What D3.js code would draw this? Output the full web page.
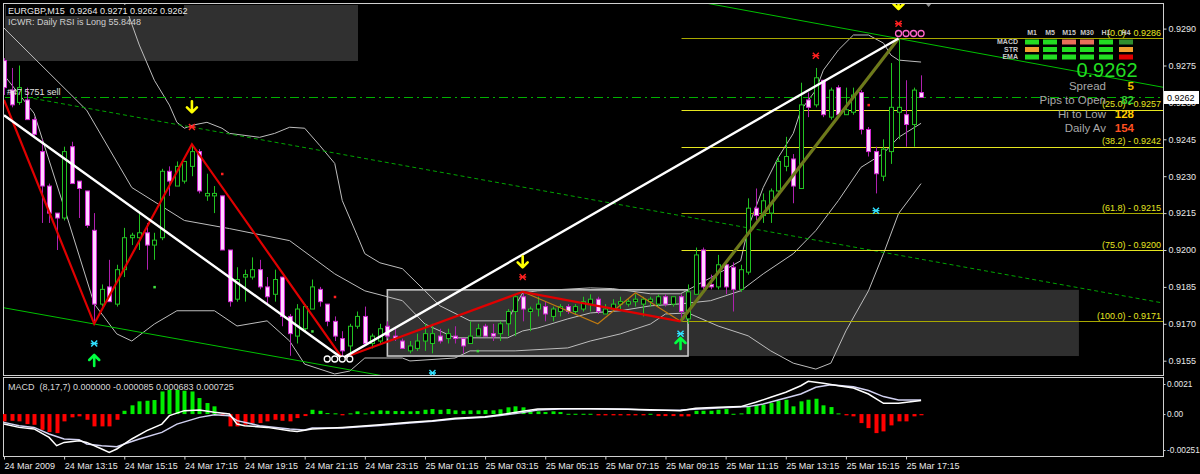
<!DOCTYPE html>
<html><head><meta charset="utf-8">
<script src="https://cdn.jsdelivr.net/npm/d3@7"></script>
<style>
html,body{margin:0;padding:0;background:#000;}
svg{display:block;font-family:"Liberation Sans",Arial,sans-serif;}
</style></head><body>
<svg id="chart" width="1200" height="474"></svg>
<script>
// ---------------- DATA ----------------
const symbolTitle = "EURGBP,M15";
const infoLine = "ICWR: Daily RSI is Long 55.8448";
const orderText = "#47 5751 sell";
const opens = [0.9277,0.9265,0.9260,0.9261,0.9253,0.9240,0.9226,0.9215,0.9213,0.9242,
 0.9228,0.9224,0.9208,0.9178,0.9185,0.9178,0.9192,0.9205,0.9205,0.9207,
 0.9202,0.9205,0.9232,0.9226,0.9228,0.9234,0.9240,0.9222,0.9222,0.9222,
 0.9200,0.9180,0.9189,0.9189,0.9192,0.9185,0.9182,0.9189,0.9173,0.9165,
 0.9168,0.9176,0.9184,0.9178,0.9171,0.9164,0.9161,0.9169,0.9173,0.9162,
 0.9163,0.9169,0.9165,0.9163,0.9159,0.9160,0.9163,0.9162,0.9165,0.9164,
 0.9165,0.9164,0.9162,0.9165,0.9169,0.9166,0.9166,0.9170,0.9175,0.9181,
 0.9175,0.9176,0.9177,0.9173,0.9175,0.9177,0.9175,0.9176,0.9178,0.9180,
 0.9174,0.9176,0.9178,0.9178,0.9179,0.9178,0.9179,0.9178,0.9181,0.9178,
 0.9181,0.9172,0.9182,0.9200,0.9186,0.9185,0.9194,0.9193,0.9184,0.9191,
 0.9217,0.9214,0.9215,0.9224,0.9234,0.9237,0.9225,0.9261,0.9259,0.9269,
 0.9254,0.9266,0.9255,0.9256,0.9264,0.9249,0.9240,0.9230,0.9240,0.9256,
 0.9255,0.9251,0.9264];
const highs = [0.9278,0.9274,0.9275,0.9266,0.9254,0.9245,0.9227,0.9215,0.9242,0.9244,
 0.9228,0.9224,0.9215,0.9186,0.9196,0.9194,0.9209,0.9207,0.9215,0.9211,
 0.9207,0.9233,0.9234,0.9236,0.9236,0.9243,0.9241,0.9231,0.9226,0.9222,
 0.9200,0.9193,0.9192,0.9197,0.9196,0.9189,0.9192,0.9189,0.9174,0.9178,
 0.9178,0.9188,0.9185,0.9178,0.9173,0.9167,0.9170,0.9175,0.9177,0.9166,
 0.9170,0.9171,0.9168,0.9164,0.9163,0.9166,0.9170,0.9170,0.9168,0.9168,
 0.9169,0.9164,0.9171,0.9170,0.9170,0.9170,0.9171,0.9176,0.9182,0.9183,
 0.9177,0.9181,0.9179,0.9177,0.9178,0.9178,0.9178,0.9181,0.9182,0.9181,
 0.9178,0.9180,0.9181,0.9180,0.9182,0.9181,0.9181,0.9182,0.9182,0.9181,
 0.9182,0.9186,0.9201,0.9201,0.9190,0.9198,0.9196,0.9195,0.9194,0.9221,
 0.9225,0.9223,0.9225,0.9238,0.9246,0.9239,0.9268,0.9264,0.9274,0.9269,
 0.9266,0.9267,0.9266,0.9266,0.9265,0.9250,0.9242,0.9245,0.9276,0.9286,
 0.9269,0.9266,0.9271];
const lows = [0.9263,0.9258,0.9259,0.9253,0.9246,0.9211,0.9211,0.9200,0.9212,0.9227,
 0.9213,0.9209,0.9170,0.9177,0.9179,0.9177,0.9189,0.9202,0.9200,0.9192,
 0.9196,0.9204,0.9222,0.9226,0.9227,0.9230,0.9223,0.9220,0.9215,0.9200,
 0.9177,0.9179,0.9179,0.9188,0.9184,0.9178,0.9179,0.9169,0.9157,0.9162,
 0.9167,0.9176,0.9177,0.9169,0.9163,0.9156,0.9158,0.9168,0.9161,0.9160,
 0.9162,0.9164,0.9163,0.9160,0.9158,0.9159,0.9159,0.9158,0.9162,0.9162,
 0.9162,0.9158,0.9162,0.9165,0.9165,0.9163,0.9163,0.9165,0.9165,0.9171,
 0.9167,0.9173,0.9171,0.9171,0.9173,0.9174,0.9174,0.9175,0.9175,0.9174,
 0.9174,0.9175,0.9176,0.9177,0.9177,0.9173,0.9177,0.9177,0.9177,0.9177,
 0.9171,0.9170,0.9182,0.9184,0.9184,0.9184,0.9182,0.9175,0.9183,0.9190,
 0.9212,0.9211,0.9211,0.9223,0.9232,0.9219,0.9225,0.9254,0.9258,0.9254,
 0.9253,0.9255,0.9255,0.9255,0.9247,0.9238,0.9223,0.9228,0.9235,0.9245,
 0.9242,0.9242,0.9262];
const closes = [0.9266,0.9259,0.9266,0.9253,0.9247,0.9226,0.9215,0.9213,0.9240,0.9227,
 0.9225,0.9210,0.9178,0.9184,0.9179,0.9192,0.9205,0.9206,0.9207,0.9202,
 0.9204,0.9232,0.9228,0.9234,0.9236,0.9240,0.9224,0.9223,0.9223,0.9200,
 0.9179,0.9188,0.9190,0.9192,0.9185,0.9181,0.9188,0.9173,0.9166,0.9176,
 0.9177,0.9185,0.9179,0.9171,0.9165,0.9159,0.9169,0.9173,0.9162,0.9165,
 0.9168,0.9165,0.9164,0.9160,0.9161,0.9163,0.9166,0.9166,0.9163,0.9166,
 0.9164,0.9161,0.9165,0.9168,0.9165,0.9165,0.9170,0.9175,0.9181,0.9176,
 0.9176,0.9178,0.9174,0.9176,0.9177,0.9175,0.9177,0.9179,0.9180,0.9175,
 0.9176,0.9178,0.9179,0.9179,0.9180,0.9180,0.9180,0.9181,0.9178,0.9181,
 0.9175,0.9183,0.9198,0.9185,0.9185,0.9194,0.9185,0.9184,0.9192,0.9217,
 0.9214,0.9220,0.9224,0.9236,0.9238,0.9226,0.9259,0.9258,0.9270,0.9255,
 0.9265,0.9255,0.9257,0.9263,0.9249,0.9240,0.9231,0.9241,0.9258,0.9258,
 0.9251,0.9265,0.9262];

const timeLabels = ["24 Mar 2009","24 Mar 13:15","24 Mar 15:15","24 Mar 17:15","24 Mar 19:15",
 "24 Mar 21:15","24 Mar 23:15","25 Mar 01:15","25 Mar 03:15","25 Mar 05:15","25 Mar 07:15",
 "25 Mar 09:15","25 Mar 11:15","25 Mar 13:15","25 Mar 15:15","25 Mar 17:15"];
const timeLabelBars = [0,8,16,24,32,40,48,56,64,72,80,88,96,104,112,120];
const priceTicks = [0.9290,0.9275,0.9260,0.9245,0.9230,0.9215,0.9200,0.9185,0.9170,0.9155];
const macdTicks = [0.0021,0.0,-0.00251];
const macdTickLabels = ["0.0021","0.00","-0.00251"];
const macdTitle = "MACD  (8,17,7) 0.000000 -0.000085 0.000683 0.000725";

// Bollinger bands: [bar, price]
const bbUpper = [[14,0.9310],[16,0.93004],[18,0.92833],[20,0.92690],[22,0.92589],[23,0.92519],[24,0.92495],[25,0.92507],[27,0.92519],[29,0.92495],[30,0.92474],[34,0.92458],[36,0.92474],[38,0.92499],[40,0.92495],[42,0.92425],[44,0.92352],[45,0.92201],[47,0.92058],[48,0.91985],[50,0.91948],[53,0.91924],[56,0.91834],[58,0.91773],[62,0.91712],[67,0.91712],[68,0.91773],[69,0.91826],[71,0.91834],[78,0.91846],[81,0.91843],[86,0.91822],[90,0.91822],[94,0.91887],[98,0.91956],[99,0.92091],[101,0.92254],[103,0.92376],[105,0.92474],[106,0.92568],[108,0.92650],[109,0.92731],[111,0.92813],[113,0.92874],[115,0.92874],[117,0.92841],[118,0.92792],[119,0.92772],[122,0.92764]];
const bbMiddle = [[0,0.92902],[11,0.92568],[17,0.92254],[24,0.92120],[30,0.92087],[38,0.92038],[44,0.91903],[48,0.91834],[53,0.91794],[56,0.91699],[60,0.91643],[67,0.91643],[69,0.91671],[71,0.91683],[75,0.91720],[78,0.91744],[82,0.91753],[86,0.91773],[90,0.91781],[94,0.91794],[98,0.91834],[101,0.91903],[105,0.91985],[108,0.92079],[111,0.92201],[114,0.92336],[117,0.92393],[119,0.92458],[122,0.92515]];
const bbLower = [[0,0.92711],[4,0.92556],[8,0.92173],[12,0.91781],[15,0.91659],[17,0.91630],[20,0.91699],[23,0.91753],[28,0.91753],[31,0.91691],[35,0.91712],[38,0.91630],[40,0.91536],[44,0.91496],[46,0.91508],[48,0.91561],[53,0.91561],[54,0.91549],[60,0.91561],[62,0.91590],[68,0.91590],[75,0.91602],[78,0.91630],[82,0.91659],[86,0.91699],[88,0.91740],[91,0.91744],[95,0.91691],[99,0.91651],[102,0.91590],[105,0.91540],[108,0.91516],[110,0.91540],[112,0.91671],[115,0.91834],[117,0.91985],[119,0.92148],[122,0.92270]];

// zigzags [bar, price]
const zigzagRed = [[0,0.9261],[12,0.9170],[25,0.9243],[45,0.9156],[69,0.9183],[90,0.9171]];
const zigzagWhite = [[0,0.92548],[45,0.9156],[119,0.9286]];
const zigzagOrange = [[69,0.9183],[79,0.9170],[84,0.91826],[90,0.9171]];
const zigzagOlive = [[90,0.9171],[119,0.9286]];

// trend / channel lines [bar, price]
const channelLower = [[0,0.91765],[60,0.91436]];
const channelUpper = [[88,0.93034],[155,0.92657]];
const dottedTrend = [[3,0.92621],[155,0.91780]];
const orderPrice = 0.9262;

// fibonacci
const fibLevels = [0.0,25.0,38.2,61.8,75.0,100.0];
const fibPrices = [0.9286,0.9257,0.9242,0.9215,0.9200,0.9171];
const fibStrong = [false,true,true,false,true,false];
const fibStartBar = 90;

// consolidation box
const boxStartBar = 51, boxEndBar = 91, boxExtEndBar = 143;
const boxTop = 0.91838, boxBottom = 0.91569;

// markers [bar, price]
const arrowsDown = [[25,0.9258],[69,0.9195],[119,0.9300]];
const arrowsUp = [[12,0.91553],[90,0.91622]];
const cyanMarks = [[12,0.9162],[90,0.9166],[57,0.9150],[116,0.9216]];
const redMarks = [[25,0.9250],[69,0.9189],[108,0.9279],[119,0.9292]];
const redDots = [[29,0.9231],[44,0.9181],[115,0.9259]];
const greenDots = [[20,0.9185],[41,0.9167],[63,0.9159]];
const whiteCircles = [[43,0.91557],[44,0.91557],[45,0.91557],[46,0.91557]];
const pinkCircles = [[119,0.9288],[120,0.9288],[121,0.9288],[122,0.9288]];
const greyTriangle = [[123,0.9300]];

// MACD
const macdHist = [-0.00051,-0.00047,-0.00051,-0.0007,-0.00075,-0.0011,-0.00126,-0.00133,-0.00051,-0.00023,-0.00016,-0.0004,-0.00086,-0.00086,-0.00086,-0.0004,
 0.00023,0.00061,0.00089,0.00093,0.00098,0.00158,0.0017,0.0017,0.00163,0.00158,0.00112,0.00077,0.00054,
 -0.00014,-0.00086,-0.00086,-0.00075,-0.00063,-0.00063,-0.00051,-0.0004,-0.00047,-0.00051,-0.00028,-0.00014,
 0.0003,0.00023,0.00007,0.00005,-0.00009,0.00005,0.00019,0.00005,0.00019,0.00026,
 0.00023,0.00021,0.00021,0.00019,0.00021,0.0003,0.00035,0.0003,0.00035,0.00026,
 0.00023,0.00026,0.00026,0.00028,0.00026,0.00033,0.00047,0.00054,0.00047,0.00019,
 0.00019,0.00014,0.00019,0.00014,0.00002,0.00002,0.00002,0.00002,-0.00009,-0.00009,
 -0.00009,-0.00009,-0.00009,-0.00009,-0.00009,0.00002,-0.00014,-0.00014,-0.00014,-0.00016,-0.00016,
 0.00023,0.00023,0.00023,0.0003,0.00035,0.00002,0.00005,0.00054,0.00065,0.00065,
 0.00077,0.00093,0.001,0.00054,0.00089,0.001,0.00107,0.00061,0.00049,0.00005,
 -0.00009,-0.00016,-0.00063,-0.00098,-0.00133,-0.00121,-0.00079,-0.00051,-0.00051,-0.00016,-0.000085];
const macdMain = [[0,-0.0007],[2,-0.00093],[4,-0.00104],[6,-0.00163],[7,-0.00221],[8,-0.00198],[10,-0.00186],[11,-0.00198],[13,-0.00244],[14,-0.00268],[15,-0.00244],[17,-0.00174],[19,-0.00116],[21,-0.0007],[22,-0.00011],[24,0.00024],[26,0.00028],[28,0.00012],[30,0],[31,-0.0007],[32,-0.00081],[35,-0.00093],[38,-0.00116],[39,-0.00121],[41,-0.00104],[45,-0.00093],[50,-0.00074],[54,-0.00058],[57,-0.00046],[60,-0.0003],[64,-0.00018],[66,-0.00004],[69,0.00019],[71,0.00035],[74,0.00038],[78,0.00038],[83,0.00033],[86,0.00031],[90,0.00024],[92,0.0004],[95,0.00047],[98,0.00052],[100,0.00082],[102,0.00117],[104,0.00152],[106,0.00198],[107,0.00229],[109,0.00215],[111,0.00198],[113,0.00182],[115,0.0014],[117,0.00075],[119,0.00075],[122,0.00094]];
const macdSignal = [[0,-0.00058],[2,-0.00081],[4,-0.00093],[6,-0.00139],[8,-0.00174],[10,-0.00179],[11,-0.00209],[13,-0.00221],[15,-0.00228],[16,-0.00209],[18,-0.00174],[21,-0.00128],[23,-0.0007],[26,-0.00023],[28,-0.00004],[30,-0.00011],[31,-0.00046],[34,-0.00081],[38,-0.00104],[40,-0.00111],[41,-0.00097],[45,-0.00098],[50,-0.0008],[54,-0.00063],[57,-0.0005],[60,-0.00035],[64,-0.00022],[66,-0.0001],[69,0.0001],[71,0.00028],[74,0.00036],[78,0.00037],[83,0.00034],[86,0.00026],[90,0.00028],[95,0.00042],[99,0.00052],[101,0.0007],[103,0.00098],[106,0.0014],[108,0.00187],[110,0.00205],[113,0.00191],[115,0.00164],[117,0.00122],[119,0.00098],[122,0.00098]];

// dashboard
const dashTimeframes = ["M1","M5","M15","M30","H1","H4"];
const dashRows = ["MACD","STR","EMA"];
const dashStates = [["up","up","dn","dn","up","weak"],["neu","up","up","up","up","neu"],["up","up","up","up","up","down"]];
const infoLabels = ["Spread","Pips to Open","Hi to Low","Daily Av"];
const infoValues = ["5","82","128","154"];

// ---------------- DRAW ----------------
const W = 1200, H = 474;
const svg = d3.select("#chart");
svg.append("rect").attr("width", W).attr("height", H).attr("fill", "#000");

const M = {l:3, r:1163, t:3, b:375};
const P = {t:377, b:456};
const x = d3.scaleLinear().domain([0,122]).range([4, 4 + 122*7.517]);
const y = d3.scaleLinear().domain([0.9155,0.9290]).range([360.7,28.6]);
const ym = d3.scaleLinear().domain([-0.00251,0.0021]).range([450,384]);
const f4 = d3.format(".4f");

const defs = svg.append("defs");
defs.append("clipPath").attr("id","clipMain").append("rect").attr("x",M.l).attr("y",M.t).attr("width",M.r-M.l).attr("height",M.b-M.t);
defs.append("clipPath").attr("id","clipMacd").append("rect").attr("x",M.l).attr("y",P.t).attr("width",M.r-M.l).attr("height",P.b-P.t);

const g = svg.append("g").attr("clip-path","url(#clipMain)");

// info box (top-left)
g.append("rect").attr("x",5).attr("y",5).attr("width",353).attr("height",56).attr("fill","#303030");

// consolidation box
g.append("rect").attr("x",x(boxEndBar)).attr("y",y(boxTop)).attr("width",x(boxExtEndBar)-x(boxEndBar))
  .attr("height",y(boxBottom)-y(boxTop)).attr("fill","#2f2f2f");
g.append("rect").attr("x",x(boxStartBar)).attr("y",y(boxTop)).attr("width",x(boxEndBar)-x(boxStartBar))
  .attr("height",y(boxBottom)-y(boxTop)).attr("fill","#333333").attr("stroke","#c8c8c8").attr("stroke-width",1.6);

const lineP = d3.line().x(d=>x(d[0])).y(d=>y(d[1]));

// Bollinger
[bbUpper,bbMiddle,bbLower].forEach(b=>{
  g.append("path").attr("d",lineP(b)).attr("fill","none").attr("stroke","#bdbdbd").attr("stroke-width",1);
});

// order line (dash-dot) and dotted trend
g.append("line").attr("x1",5).attr("x2",M.r).attr("y1",Math.round(y(orderPrice))+0.5).attr("y2",Math.round(y(orderPrice))+0.5)
  .attr("stroke","#00b000").attr("stroke-width",1).attr("stroke-dasharray","9,4,2,4");
g.append("path").attr("d",lineP(dottedTrend)).attr("fill","none").attr("stroke","#00a400").attr("stroke-width",1).attr("stroke-dasharray","4,3");
// channels
[channelLower,channelUpper].forEach(c=>{
  g.append("path").attr("d",lineP(c)).attr("fill","none").attr("stroke","#00c000").attr("stroke-width",1);
});

// fib lines
fibPrices.forEach((p,i)=>{
  const yy = Math.round(y(p))+0.5;
  g.append("line").attr("x1",x(fibStartBar)+1).attr("x2",M.r).attr("y1",yy).attr("y2",yy)
    .attr("stroke", fibStrong[i] ? "#e6e620" : "#a8a800").attr("stroke-width",1.2);
});

// candles
const cg = g.append("g");
closes.forEach((c,i)=>{
  const o = opens[i], hi = highs[i], lo = lows[i];
  const up = c >= o;
  const cx = Math.round(x(i));
  const stroke = up ? "#22c322" : "#d028d0";
  cg.append("line").attr("x1",cx+0.5).attr("x2",cx+0.5).attr("y1",y(hi)).attr("y2",y(lo))
    .attr("stroke", up ? "#22c322" : "#b020b0").attr("stroke-width",1);
  const yt = Math.min(y(o),y(c)), yb = Math.max(y(o),y(c));
  cg.append("rect").attr("x",cx-1.5).attr("y",yt).attr("width",4).attr("height",Math.max(1,yb-yt))
    .attr("fill", up ? "#000" : "#ffd6ff").attr("stroke",stroke).attr("stroke-width",1);
});

// order text
g.append("text").attr("x",7).attr("y",95).attr("fill","#e0e0e0").attr("font-size","9px").text(orderText);

// zigzags
g.append("path").attr("d",lineP(zigzagOlive)).attr("fill","none").attr("stroke","#74741c").attr("stroke-width",3.2);
g.append("path").attr("d",lineP(zigzagOlive)).attr("fill","none").attr("stroke","#5a8a1a").attr("stroke-width",0.8);
g.append("path").attr("d",lineP(zigzagOrange)).attr("fill","none").attr("stroke","#c07a10").attr("stroke-width",1.2);
g.append("path").attr("d",lineP(zigzagRed)).attr("fill","none").attr("stroke","#e00000").attr("stroke-width",2.2);
g.append("path").attr("d",lineP(zigzagWhite)).attr("fill","none").attr("stroke","#ffffff").attr("stroke-width",2.4);

// markers
const mk = g.append("g");
arrowsDown.forEach(d=>{
  mk.append("path").attr("transform",`translate(${x(d[0])},${y(d[1])})`)
    .attr("d","M0,-6L0,5M-5,0L0,5L5,0").attr("fill","none").attr("stroke","#ffff00").attr("stroke-width",2.6).attr("stroke-linecap","round").attr("stroke-linejoin","round");
});
arrowsUp.forEach(d=>{
  mk.append("path").attr("transform",`translate(${x(d[0])},${y(d[1])})`)
    .attr("d","M0,6L0,-5M-5,0L0,-5L5,0").attr("fill","none").attr("stroke","#00ff40").attr("stroke-width",2.6).attr("stroke-linecap","round").attr("stroke-linejoin","round");
});
const cross = (arr,col)=>arr.forEach(d=>{
  mk.append("path").attr("transform",`translate(${x(d[0])},${y(d[1])})`)
    .attr("d","M-3,-3L3,3M3,-3L-3,3M-3.5,0L3.5,0").attr("stroke",col).attr("stroke-width",1.4).attr("fill","none");
});
cross(cyanMarks,"#30e0ff");
cross(redMarks,"#ff2020");
redDots.forEach(d=>mk.append("rect").attr("x",x(d[0])-1).attr("y",y(d[1])-1).attr("width",2.5).attr("height",2.5).attr("fill","#ff2020"));
greenDots.forEach(d=>mk.append("rect").attr("x",x(d[0])-1).attr("y",y(d[1])-1).attr("width",2.5).attr("height",2.5).attr("fill","#40e040"));
whiteCircles.forEach(d=>mk.append("circle").attr("cx",x(d[0])).attr("cy",y(d[1])).attr("r",3).attr("fill","#000").attr("stroke","#fff").attr("stroke-width",1.3));
pinkCircles.forEach(d=>mk.append("circle").attr("cx",x(d[0])).attr("cy",y(d[1])).attr("r",3).attr("fill","none").attr("stroke","#ff66cc").attr("stroke-width",1.3));
greyTriangle.forEach(d=>mk.append("path").attr("transform",`translate(${x(d[0])},${y(d[1])})`).attr("d","M-5,-3L5,-3L0,3Z").attr("fill","#909090"));

// fib labels
fibPrices.forEach((p,i)=>{
  g.append("text").attr("x",1161).attr("y",y(p)-2.5).attr("text-anchor","end").attr("font-size","9px")
    .attr("fill","#e6e620").text(`(${fibLevels[i].toFixed(1)}) - ${f4(p)}`);
});

// header texts
svg.append("rect").attr("x",6).attr("y",5).attr("width",178).attr("height",11).attr("fill","#000");
svg.append("text").attr("x",8).attr("y",14).attr("font-size","9px").attr("fill","#e8e8e8").style("white-space","pre")
  .text(`${symbolTitle}  ${f4(opens[122])} ${f4(highs[122])} ${f4(lows[122])} ${f4(closes[122])}`);
svg.append("text").attr("x",8).attr("y",24.5).attr("font-size","9px").attr("fill","#cfcfcf").text(infoLine);

// dashboard
const colX = [1032,1050,1069,1087,1106,1126];
const rowY = [39.5,47,54.5];
const stateCol = {up:"#22dd22", dn:"#e8705a", weak:"#2f8f2f", neu:"#f0a030", down:"#e00000"};
dashTimeframes.forEach((t,i)=>svg.append("text").attr("x",colX[i]).attr("y",35).attr("text-anchor","middle")
  .attr("font-size","7px").attr("font-weight","bold").attr("fill","#c8c8c8").text(t));
dashRows.forEach((r,j)=>{
  svg.append("text").attr("x",1018).attr("y",rowY[j]+4.5).attr("text-anchor","end").attr("font-size","7px")
    .attr("font-weight","bold").attr("fill","#c8c8c8").text(r);
  dashStates[j].forEach((s,i)=>svg.append("rect").attr("x",colX[i]-7).attr("y",rowY[j]).attr("width",14).attr("height",5).attr("fill",stateCol[s]));
});
svg.append("text").attr("x",1107).attr("y",77).attr("text-anchor","middle").attr("font-size","20px")
  .attr("fill","#22dd22").text(f4(closes[122]));
const infoY = [90,103.5,118,131.5];
const infoCol = ["#f0c000","#33cc33","#ffcc00","#ff5020"];
infoLabels.forEach((l,i)=>{
  svg.append("text").attr("x",1106).attr("y",infoY[i]).attr("text-anchor","end").attr("font-size","11.5px").attr("fill","#a8a8a8").text(l);
  svg.append("text").attr("x",1134).attr("y",infoY[i]).attr("text-anchor","end").attr("font-size","11.5px").attr("font-weight","bold").attr("fill",infoCol[i]).text(infoValues[i]);
});

// frames
svg.append("rect").attr("x",M.l+0.5).attr("y",M.t+0.5).attr("width",M.r-M.l).attr("height",M.b-M.t).attr("fill","none").attr("stroke","#d0d0d0");
svg.append("rect").attr("x",M.l+0.5).attr("y",P.t+0.5).attr("width",M.r-M.l).attr("height",P.b-P.t).attr("fill","none").attr("stroke","#d0d0d0");

// right price axis
const ay = svg.append("g").attr("transform",`translate(${M.r+0.5},0)`)
  .call(d3.axisRight(y).tickValues(priceTicks).tickSize(3).tickPadding(2).tickFormat(f4));
ay.select(".domain").remove();
ay.selectAll("line").attr("stroke","#d0d0d0");
ay.selectAll("text").attr("fill","#e8e8e8").attr("font-size","9px").attr("font-family","Liberation Sans, Arial, sans-serif");
// current price box
const cy = y(closes[122]);
svg.append("rect").attr("x",1164).attr("y",cy-6.5).attr("width",35).attr("height",13).attr("fill","#fff");
svg.append("text").attr("x",1167).attr("y",cy+3.5).attr("font-size","9px").attr("fill","#000").text(f4(closes[122]));

// MACD
const mg = svg.append("g").attr("clip-path","url(#clipMacd)");
macdHist.forEach((v,i)=>{
  const cx = Math.round(x(i));
  const y0 = ym(0), y1 = ym(v);
  mg.append("rect").attr("x",cx-1.5).attr("width",4)
    .attr("y",Math.min(y0,y1)).attr("height",Math.max(1,Math.abs(y1-y0)))
    .attr("fill", v >= 0 ? "#00ee00" : "#ff0000");
});
const lineM = d3.line().x(d=>x(d[0])).y(d=>ym(d[1]));
mg.append("path").attr("d",lineM(macdSignal)).attr("fill","none").attr("stroke","#d0d0f0").attr("stroke-width",1.5);
mg.append("path").attr("d",lineM(macdMain)).attr("fill","none").attr("stroke","#ffffff").attr("stroke-width",1.5);
svg.append("text").attr("x",8).attr("y",390).attr("font-size","9px").attr("fill","#d8d8d8").style("white-space","pre").text(macdTitle);

const am = svg.append("g").attr("transform",`translate(${M.r+0.5},0)`)
  .call(d3.axisRight(ym).tickValues(macdTicks).tickSize(2).tickPadding(1.5).tickFormat((d,i)=>macdTickLabels[i]));
am.select(".domain").remove();
am.selectAll("line").attr("stroke","#d0d0d0");
am.selectAll("text").attr("fill","#e8e8e8").attr("font-size","8.3px").attr("font-family","Liberation Sans, Arial, sans-serif");

// time axis
const ax = svg.append("g").attr("transform",`translate(0,${P.b+0.5})`)
  .call(d3.axisBottom(x).tickValues(timeLabelBars).tickSize(3).tickFormat((d,i)=>timeLabels[i]));
ax.select(".domain").remove();
ax.selectAll("line").attr("stroke","#d0d0d0");
ax.selectAll("text").attr("fill","#e8e8e8").attr("font-size","9px").attr("text-anchor","start").attr("x",0)
  .attr("font-family","Liberation Sans, Arial, sans-serif");
</script>
</body></html>
